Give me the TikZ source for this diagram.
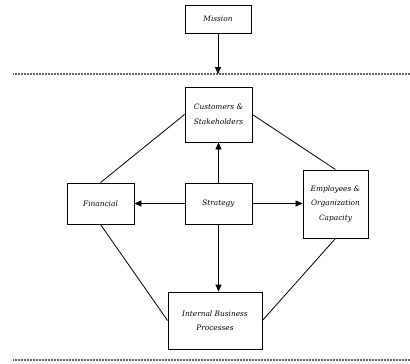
\documentclass[tikz,border=0pt]{standalone}
\usepackage{fontspec}
\setmainfont{DejaVu Serif}
\usetikzlibrary{arrows.meta}
\begin{document}
\begin{tikzpicture}[x=1pt,y=-1pt,
  box/.style={draw, line width=0.9pt, inner sep=1pt, align=center,
    font=\fontsize{7.4}{14.5}\selectfont\itshape},
  link/.style={line width=0.8pt},
  arr/.style={line width=0.8pt, -{Triangle[length=7pt,width=6pt]}},
  sep/.style={line width=1.3pt, black!60, dash pattern=on 1pt off 0.5pt}]
\useasboundingbox (0,0) rectangle (410,364);

% perspective boxes
\node[box, minimum width=66pt, minimum height=28pt] (mission)   at (218,19)    {Mission};
\node[box, minimum width=67pt, minimum height=55pt] (customers) at (218.5,114.5) {Customers \&\\Stakeholders};
\node[box, minimum width=67pt, minimum height=41pt] (strategy)  at (218.5,203.5) {Strategy};
\node[box, minimum width=67pt, minimum height=41pt] (financial) at (100.5,203.5) {Financial};
\node[box, minimum width=65pt, minimum height=68pt] (employees) at (335.5,204)  {Employees \&\\Organization\\Capacity};
\node[box, minimum width=94pt, minimum height=57pt] (internal)  at (215,320.5)  {Internal Business\\Processes};

% separator lines
\coordinate (l1) at (13,74);
\coordinate (r1) at (410,74);
\coordinate (l2) at (13,360);
\coordinate (r2) at (410,360);
\coordinate (m) at (218,74);
\draw[sep] (l1) -- (r1);
\draw[sep] (l2) -- (r2);

% mission feeds into the framework
\draw[arr] (mission.south) -- (m);

% outer diamond of links
\draw[link] (customers.west) -- (financial.north);
\draw[link] (customers.east) -- (employees.north);
\draw[link] (financial.south) -- (internal.west);
\draw[link] (employees.south) -- (internal.east);

% strategy drives every perspective
\draw[arr] (strategy.north) -- (customers.south);
\draw[arr] (strategy.west) -- (financial.east);
\draw[arr] (strategy.east) -- (employees.west |- strategy.east);
\draw[arr] (strategy.south) -- (strategy.south |- internal.north);
\end{tikzpicture}
\end{document}
